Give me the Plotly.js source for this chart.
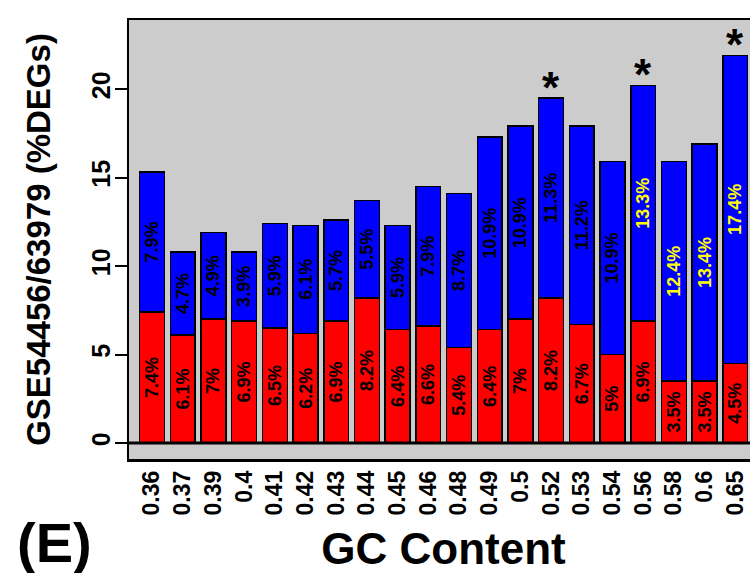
<!DOCTYPE html>
<html>
<head>
<meta charset="utf-8">
<script src="https://cdn.plot.ly/plotly-3.0.1.min.js"></script>
<style>
html,body{margin:0;padding:0;overflow:hidden;background:#fff;width:750px;height:573px;}
#chart{position:absolute;left:0;top:0;width:790px;height:573px;}
</style>
</head>
<body>
<div id="chart"></div>
<script>
const gcContent = ['0.36','0.37','0.39','0.4','0.41','0.42','0.43','0.44','0.45','0.46','0.48','0.49','0.5','0.52','0.53','0.54','0.56','0.58','0.6','0.65'];
const redPct  = [7.4,6.1,7,6.9,6.5,6.2,6.9,8.2,6.4,6.6,5.4,6.4,7,8.2,6.7,5,6.9,3.5,3.5,4.5];
const bluePct = [7.9,4.7,4.9,3.9,5.9,6.1,5.7,5.5,5.9,7.9,8.7,10.9,10.9,11.3,11.2,10.9,13.3,12.4,13.4,17.4];
const yellowLabelCats = ['0.56','0.58','0.6','0.65'];
const significantCats = ['0.52','0.56','0.65'];
const yTickVals = [0,5,10,15,20];

const FONT = 'Liberation Sans, Arial, Helvetica, sans-serif';

const redTrace = {
  type:'bar', x:gcContent, y:redPct,
  text: redPct.map(v => v + '%'),
  textposition:'inside', insidetextanchor:'middle', textangle:-90,
  constraintext:'none',
  textfont:{family:FONT, size:18, color:'#000', weight:'bold'},
  marker:{color:'#ff0000', line:{color:'#000', width:1.5}},
  hoverinfo:'none', showlegend:false
};
const blueTrace = {
  type:'bar', x:gcContent, y:bluePct,
  text: bluePct.map(v => v + '%'),
  textposition:'inside', insidetextanchor:'middle', textangle:-90,
  constraintext:'none',
  textfont:{family:FONT, size:18, weight:'bold', color: gcContent.map(c => yellowLabelCats.includes(c) ? '#ffff00' : '#000')},
  marker:{color:'#0000ff', line:{color:'#000', width:1.5}},
  hoverinfo:'none', showlegend:false
};

const annotations = significantCats.map(c => {
  const i = gcContent.indexOf(c);
  return {x:i, y:redPct[i]+bluePct[i], xref:'x', yref:'y', text:'*', showarrow:false,
          yanchor:'bottom', yshift:-16, font:{family:FONT, size:44, color:'#000', weight:'bold'}};
});
annotations.push({xref:'paper', yref:'paper', x:-0.118, y:-0.115, xanchor:'center', yanchor:'top',
  text:'(E)', showarrow:false, font:{family:FONT, size:56, color:'#000', weight:'bold'}});

const layout = {
  width:790, height:573,
  margin:{l:129, r:32, t:20, b:114},
  paper_bgcolor:'#fff', plot_bgcolor:'#cccccc',
  barmode:'stack', bargap:0.19,
  xaxis:{type:'category', range:[-0.75,19.74], showgrid:false, zeroline:false,
    showline:true, mirror:true, linecolor:'#000', linewidth:2.5,
    ticks:'', tickangle:-90, tickfont:{family:FONT, size:23, color:'#000', weight:'bold'},
    title:{text:'GC Content', font:{family:FONT, size:44, color:'#000', weight:'bold'}, standoff:26}},
  yaxis:{range:[-0.904,23.9], tickvals:yTickVals, ticktext:yTickVals.map(String),
    showgrid:false, zeroline:false,
    showline:true, mirror:true, linecolor:'#000', linewidth:2.5,
    ticks:'outside', ticklen:12, tickwidth:2, tickcolor:'#000', tickangle:-90,
    ticklabelstandoff:-5,
    tickfont:{family:FONT, size:25, color:'#000', weight:'bold'},
    title:{text:'GSE54456/63979 (%DEGs)', font:{family:FONT, size:33, color:'#000', weight:'bold'}, standoff:26}},
  shapes:[{type:'line', xref:'paper', yref:'y', x0:0, x1:1, y0:0, y1:0, line:{color:'#000', width:3}}],
  annotations:annotations
};

Plotly.newPlot('chart', [redTrace, blueTrace], layout, {staticPlot:true, displayModeBar:false});
</script>
</body>
</html>
